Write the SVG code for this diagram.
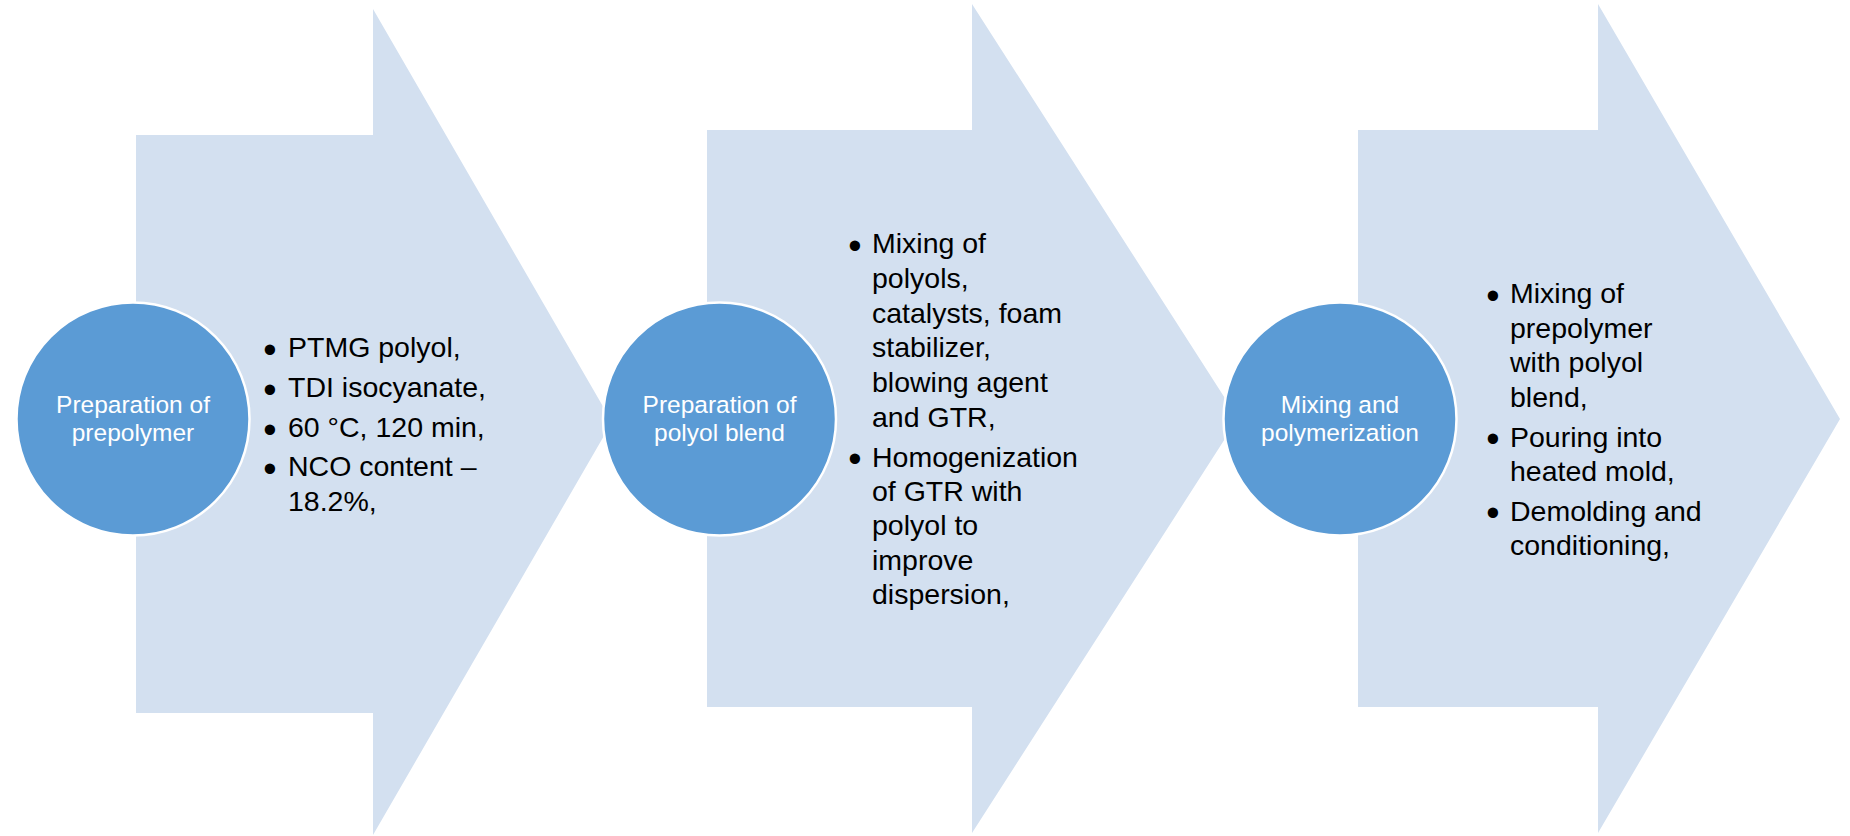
<svg xmlns="http://www.w3.org/2000/svg" width="1850" height="836" viewBox="0 0 1850 836">
  <style>
    .arrow { fill: #D3E0F0; }
    .disc { fill: #5B9BD5; stroke: #FFFFFF; stroke-width: 2.5; }
    .title { font-family: "Liberation Sans", Arial, sans-serif; font-size: 24.5px; fill: #FFFFFF; text-anchor: middle; }
    .body { font-family: "Liberation Sans", Arial, sans-serif; font-size: 28.5px; fill: #000000; }
    .dot { font-family: "Liberation Sans", Arial, sans-serif; font-size: 38px; fill: #000000; text-anchor: middle; }
  </style>

  <!-- block arrows (drawn first so the circles sit on top of them) -->
  <g id="arrows">
    <polygon id="arrow-1" class="arrow" points="136,135 373,135 373,9 612,422 373,835 373,713 136,713"/>
    <polygon id="arrow-2" class="arrow" points="707,130 972,130 972,4 1238,418.5 972,833 972,707 707,707"/>
    <polygon id="arrow-3" class="arrow" points="1358,130 1598,130 1598,4 1840,419 1598,833 1598,707 1358,707"/>
  </g>

  <!-- step 1 -->
  <g id="step-1">
    <circle class="disc" cx="133" cy="419" r="116.5"/>
    <text class="title" x="133" y="413">Preparation of</text>
    <text class="title" x="133" y="441">prepolymer</text>
    <text class="dot" x="270" y="362.5">•</text>
    <text class="body" x="288" y="357">PTMG polyol,</text>
    <text class="dot" x="270" y="402.5">•</text>
    <text class="body" x="288" y="397">TDI isocyanate,</text>
    <text class="dot" x="270" y="442.5">•</text>
    <text class="body" x="288" y="437">60 °C, 120 min,</text>
    <text class="dot" x="270" y="481.5">•</text>
    <text class="body" x="288" y="476">NCO content –</text>
    <text class="body" x="288" y="510.5">18.2%,</text>
  </g>

  <!-- step 2 -->
  <g id="step-2">
    <circle class="disc" cx="719.5" cy="419" r="116.5"/>
    <text class="title" x="719.5" y="413">Preparation of</text>
    <text class="title" x="719.5" y="441">polyol blend</text>
    <text class="dot" x="855" y="258.5">•</text>
    <text class="body" x="872" y="253">Mixing of</text>
    <text class="body" x="872" y="288">polyols,</text>
    <text class="body" x="872" y="322.5">catalysts, foam</text>
    <text class="body" x="872" y="357">stabilizer,</text>
    <text class="body" x="872" y="392">blowing agent</text>
    <text class="body" x="872" y="426.5">and GTR,</text>
    <text class="dot" x="855" y="472">•</text>
    <text class="body" x="872" y="466.5">Homogenization</text>
    <text class="body" x="872" y="501">of GTR with</text>
    <text class="body" x="872" y="535">polyol to</text>
    <text class="body" x="872" y="569.5">improve</text>
    <text class="body" x="872" y="604">dispersion,</text>
  </g>

  <!-- step 3 -->
  <g id="step-3">
    <circle class="disc" cx="1340" cy="419" r="116.5"/>
    <text class="title" x="1340" y="413">Mixing and</text>
    <text class="title" x="1340" y="441">polymerization</text>
    <text class="dot" x="1493" y="308.5">•</text>
    <text class="body" x="1510" y="303">Mixing of</text>
    <text class="body" x="1510" y="337.5">prepolymer</text>
    <text class="body" x="1510" y="372">with polyol</text>
    <text class="body" x="1510" y="406.5">blend,</text>
    <text class="dot" x="1493" y="452">•</text>
    <text class="body" x="1510" y="446.5">Pouring into</text>
    <text class="body" x="1510" y="481">heated mold,</text>
    <text class="dot" x="1493" y="526">•</text>
    <text class="body" x="1510" y="520.5">Demolding and</text>
    <text class="body" x="1510" y="555">conditioning,</text>
  </g>
</svg>
